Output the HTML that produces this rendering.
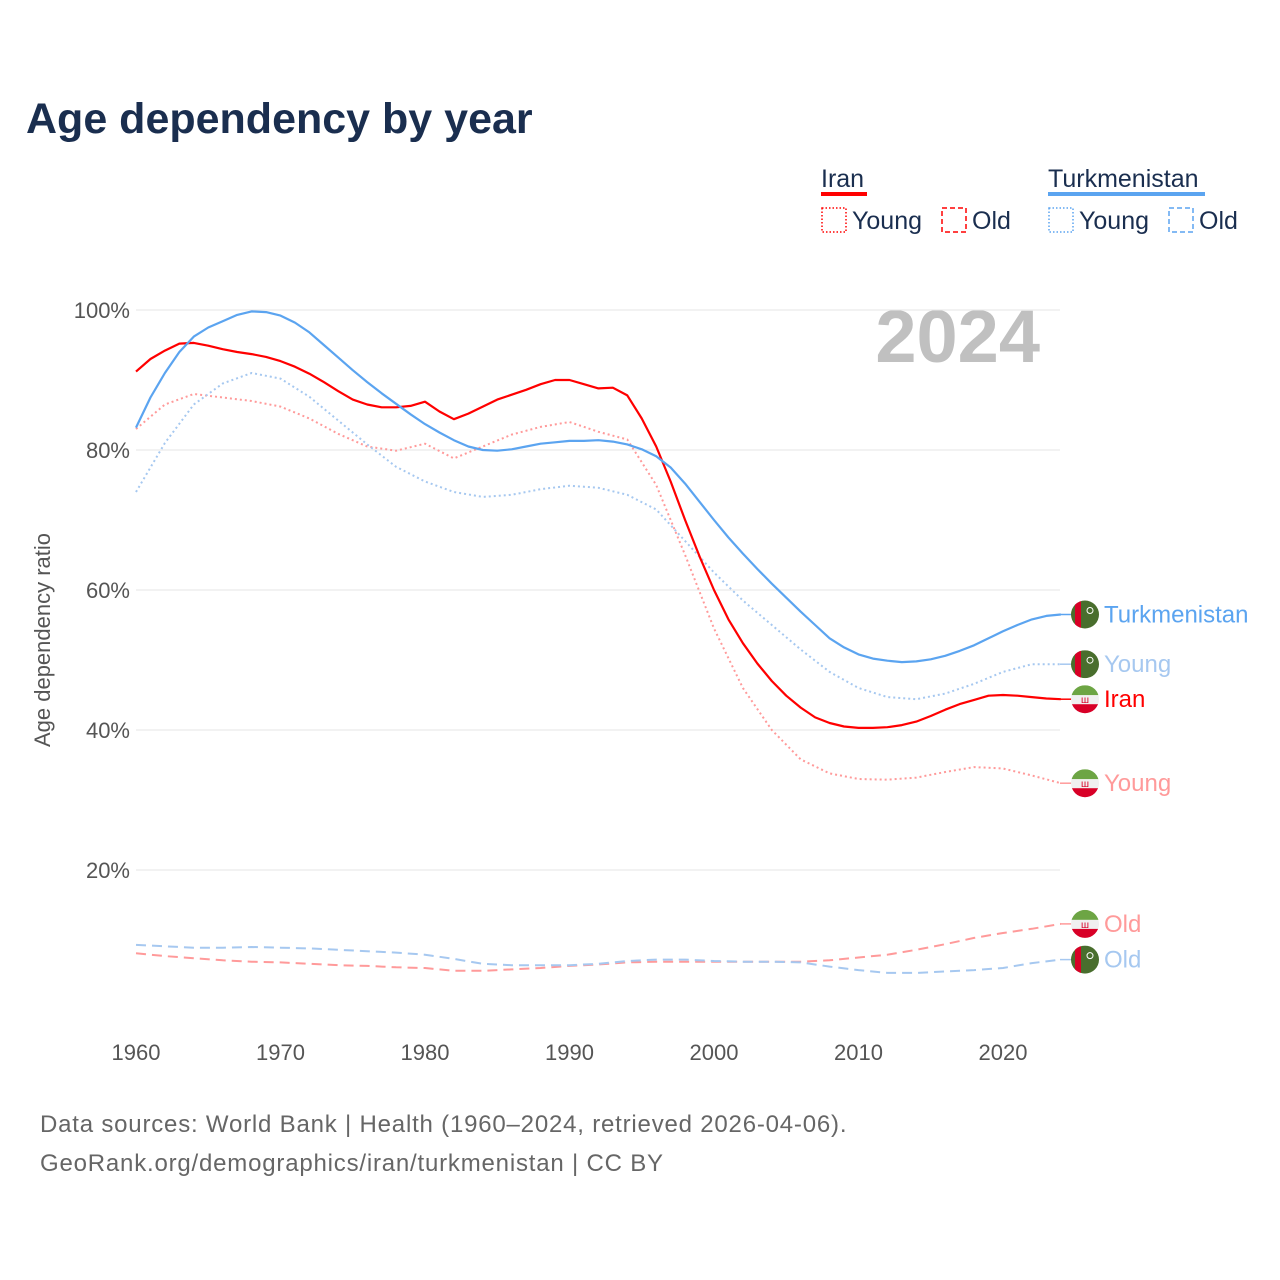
<!DOCTYPE html>
<html><head><meta charset="utf-8"><style>
body{margin:0;background:#fff;font-family:"Liberation Sans",sans-serif}
#w{position:relative;width:1280px;height:1280px;overflow:hidden}
</style></head><body>
<div id="w">
<svg id="s" width="1280" height="1280" xmlns="http://www.w3.org/2000/svg">
<text x="26" y="133" font-size="43" font-weight="bold" fill="#1a2e4f">Age dependency by year</text>
<g font-size="25" fill="#1a2e4f">
<text x="821" y="187">Iran</text>
<rect x="821" y="192" width="46" height="4" fill="#ff0000"/>
<rect x="822" y="208" width="24" height="24" fill="none" stroke="#ff0000" stroke-width="1.5" stroke-dasharray="1.5,2"/>
<text x="852" y="229">Young</text>
<rect x="942" y="208" width="24" height="24" fill="none" stroke="#ff0000" stroke-width="1.5" stroke-dasharray="5,3"/>
<text x="972" y="229">Old</text>
<text x="1048" y="187">Turkmenistan</text>
<rect x="1048" y="192" width="157" height="4" fill="#5ba4f0"/>
<rect x="1049" y="208" width="24" height="24" fill="none" stroke="#5ba4f0" stroke-width="1.5" stroke-dasharray="1.5,2"/>
<text x="1079" y="229">Young</text>
<rect x="1169" y="208" width="24" height="24" fill="none" stroke="#5ba4f0" stroke-width="1.5" stroke-dasharray="5,3"/>
<text x="1199" y="229">Old</text>
</g>
<text x="1040" y="362" font-size="74" font-weight="bold" fill="#c0c0c0" text-anchor="end">2024</text>
<text transform="translate(50,640) rotate(-90)" font-size="22" fill="#555" text-anchor="middle">Age dependency ratio</text>
<g id="grid"></g><g id="lines"></g><g id="ends"></g>
<text x="40" y="1132" font-size="24" letter-spacing="0.8" fill="#666">Data sources: World Bank | Health (1960–2024, retrieved 2026-04-06).</text>
<text x="40" y="1171" font-size="24" letter-spacing="0.8" fill="#666">GeoRank.org/demographics/iran/turkmenistan | CC BY</text>
</svg></div>
<script>
const yearsAnnual=[];for(let y=1960;y<=2024;y++)yearsAnnual.push(y);
const yearsBi=[];for(let y=1960;y<=2024;y+=2)yearsBi.push(y);
const yTicks=[20,40,60,80,100];
const xTicks=[1960,1970,1980,1990,2000,2010,2020];
const iranTotal=[91.2,93,94.2,95.2,95.3,94.9,94.4,94,93.7,93.3,92.7,91.9,90.9,89.7,88.4,87.2,86.5,86.1,86.1,86.3,86.9,85.5,84.4,85.2,86.2,87.2,87.9,88.6,89.4,90,90,89.4,88.8,88.9,87.8,84.5,80.5,75.5,70,64.8,60,55.8,52.4,49.5,47,44.9,43.2,41.8,41,40.5,40.3,40.3,40.4,40.7,41.2,42,42.9,43.7,44.3,44.9,45,44.9,44.7,44.5,44.4];
const turkTotal=[83.2,87.5,91,94,96.2,97.5,98.4,99.3,99.8,99.7,99.2,98.2,96.8,95,93.2,91.4,89.7,88.1,86.6,85.1,83.7,82.5,81.4,80.5,80,79.9,80.1,80.5,80.9,81.1,81.3,81.3,81.4,81.2,80.8,80.1,79.1,77.5,75.2,72.6,70,67.5,65.2,63,60.9,58.9,56.9,55,53.1,51.8,50.8,50.2,49.9,49.7,49.8,50.1,50.6,51.3,52.1,53.1,54.1,55,55.8,56.3,56.5];
const iranYoung=[83,86.5,88,87.5,87,86.2,84.5,82.3,80.5,79.9,80.9,78.8,80.5,82.2,83.3,84,82.6,81.5,75,65,54.5,46,40,35.8,33.8,33,32.9,33.2,34,34.7,34.5,33.5,32.4];
const turkYoung=[74,81,86.5,89.5,91,90.2,87.6,84.2,80.8,77.6,75.5,74,73.3,73.6,74.4,74.9,74.6,73.6,71.5,67,62.5,58.5,55,51.5,48.3,46,44.7,44.4,45.2,46.6,48.3,49.4,49.4];
const iranOld=[8.1,7.7,7.4,7.1,6.9,6.8,6.6,6.4,6.3,6.1,6,5.6,5.6,5.8,6,6.3,6.5,6.8,6.9,6.9,6.9,6.9,6.9,6.9,7.1,7.5,7.9,8.6,9.4,10.3,11,11.6,12.3];
const turkOld=[9.3,9.1,8.9,8.9,9,8.9,8.8,8.6,8.4,8.2,7.9,7.3,6.6,6.4,6.4,6.4,6.6,7,7.2,7.2,7,6.9,6.9,6.8,6.2,5.7,5.3,5.3,5.5,5.7,6,6.7,7.2];
const X=y=>136+(y-1960)*(867/60), Y=v=>1010-v*7;
const NS="http://www.w3.org/2000/svg";
function mk(t,a,p){const e=document.createElementNS(NS,t);for(const k in a)e.setAttribute(k,a[k]);p.appendChild(e);return e;}
const g=document.getElementById('grid');
yTicks.forEach(v=>{const l=mk('line',{x1:136,x2:1060,y1:Y(v),y2:Y(v),stroke:'#e6e6e6','stroke-width':1},g);


const t=mk('text',{x:130,y:Y(v)+8,'font-size':22,fill:'#555','text-anchor':'end'},g);t.textContent=v+'%';

});
xTicks.forEach(v=>{const t=mk('text',{x:X(v),y:1060,'font-size':22,fill:'#555','text-anchor':'middle'},g);t.textContent=v;

});
const L=document.getElementById('lines'),E=document.getElementById('ends');
function flag(cx,cy,iran){
 const id='c'+Math.round(cy);const cp=mk('clipPath',{id:id},E);mk('circle',{cx:cx,cy:cy,r:14},cp);
 const f=mk('g',{'clip-path':'url(#'+id+')'},E);
 if(iran){mk('rect',{x:cx-14,y:cy-14,width:28,height:10,fill:'#6da544'},f);mk('rect',{x:cx-14,y:cy-4,width:28,height:9,fill:'#f0f0f0'},f);mk('rect',{x:cx-14,y:cy+5,width:28,height:10,fill:'#d80027'},f);mk('text',{x:cx,y:cy+4,'font-size':10,fill:'#d80027','text-anchor':'middle'},f).textContent='ш';}
 else{mk('rect',{x:cx-14,y:cy-14,width:28,height:28,fill:'#496e2d'},f);mk('rect',{x:cx-10,y:cy-14,width:6,height:28,fill:'#d80027'},f);mk('circle',{cx:cx+5,cy:cy-4,r:3,fill:'none',stroke:'#fff','stroke-width':1},f);}
}
function series(name,yrs,vals,color,dash,label,lcolor,iran){
 const p=mk('polyline',{points:yrs.map((y,i)=>X(y)+','+Y(vals[i])).join(' '),fill:'none',stroke:color,'stroke-width':dash?2:2.2,'stroke-dasharray':dash||'none','stroke-linejoin':'round'},L);
 
 
 const ly=Y(vals[vals.length-1]);
 mk('line',{x1:1060,x2:1072,y1:ly,y2:ly,stroke:color,'stroke-width':1.5},E);
 flag(1085,ly,iran);
 const t=mk('text',{x:1104,y:ly+8,'font-size':24,fill:lcolor},E);t.textContent=label;
 
 
}
series('iran-old',yearsBi,iranOld,'#ff9a9a','10,6','Old','#ff9a9a',true);
series('turkmenistan-old',yearsBi,turkOld,'#a6c8f0','10,6','Old','#a6c8f0',false);
series('iran-young',yearsBi,iranYoung,'#ff9a9a','2,3','Young','#ff9a9a',true);
series('turkmenistan-young',yearsBi,turkYoung,'#a6c8f0','2,3','Young','#a6c8f0',false);
series('iran',yearsAnnual,iranTotal,'#ff0000',null,'Iran','#ff0000',true);
series('turkmenistan',yearsAnnual,turkTotal,'#5ba4f0',null,'Turkmenistan','#5ba4f0',false);
</script></body></html>
